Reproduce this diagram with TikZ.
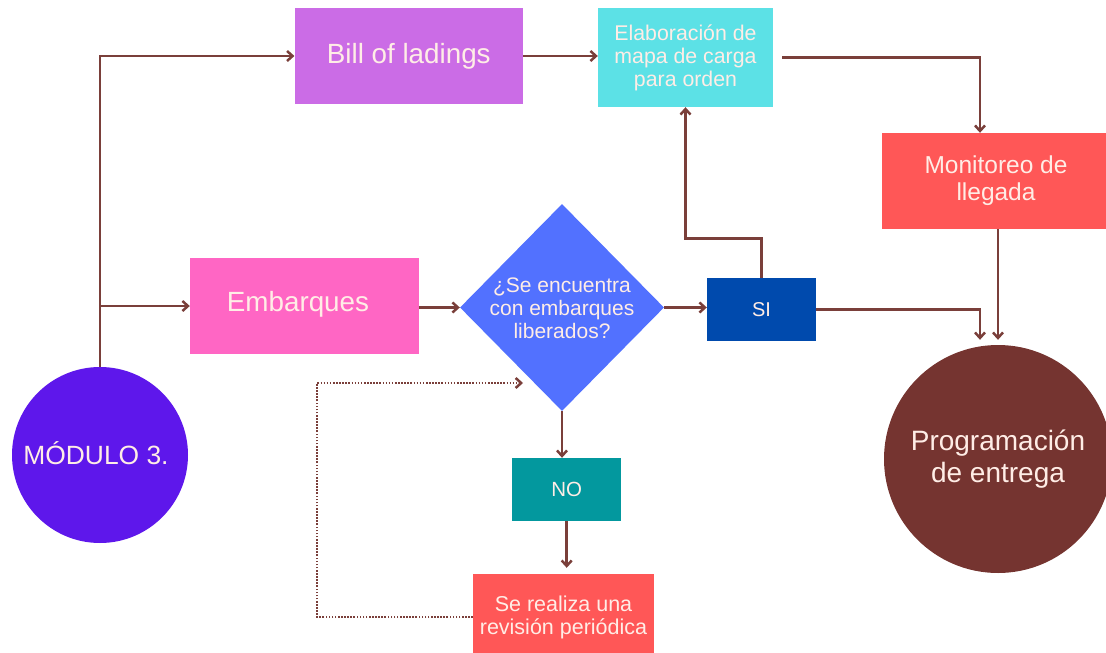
\documentclass[tikz,border=0pt]{standalone}
\usepackage{fontspec}
\setmainfont{Liberation Sans}
\usetikzlibrary{shapes.geometric,arrows.meta,calc}

\definecolor{lavender}{HTML}{CB6CE6}
\definecolor{aqua}{HTML}{5CE1E6}
\definecolor{coral}{HTML}{FF5757}
\definecolor{pinkish}{HTML}{FF66C4}
\definecolor{skyblue}{HTML}{5271FF}
\definecolor{navy}{HTML}{004AAD}
\definecolor{teal}{HTML}{03989E}
\definecolor{violet}{HTML}{5E17EB}
\definecolor{maroon}{HTML}{753430}
\definecolor{linebrown}{HTML}{7A3F3A}
\definecolor{cream}{HTML}{FFEDE6}

\newcommand{\fs}[2]{\fontsize{#1}{#2}\selectfont}

\tikzset{
  box/.style={rectangle, inner sep=0pt, text=cream, align=center},
  disc/.style={circle, inner sep=0pt, text=cream, align=center},
  lbl/.style={inner sep=0pt, text=cream, align=center},
  flow/.style={draw=linebrown, line width=2.7pt,
    -{Straight Barb[length=5.5pt,width=10pt,line width=2.5pt]}},
  loopback/.style={flow, line width=2.5pt, dash pattern=on 1.6pt off 1.5pt}
}

\begin{document}
\begin{tikzpicture}[x=1pt,y=-1pt]
\useasboundingbox (0,0) rectangle (1106,653);
\clip (0,0) rectangle (1106,653);

% process boxes
\node[box, fill=lavender, minimum width=228.4pt, minimum height=95.7pt,
      font=\fs{27.8}{32}] (bill) at (408.8,56) {Bill of ladings};
\node[box, fill=aqua, minimum width=175pt, minimum height=99pt,
      font=\fs{21.3}{23}] (elab) at (685.5,57.5) {Elaboración de\\mapa de carga\\para orden};
\node[box, fill=coral, minimum width=228pt, minimum height=96pt,
      font=\fs{24.5}{27}] (monit) at (996,181) {Monitoreo de\\llegada};
\node[box, fill=pinkish, minimum width=228.6pt, minimum height=96pt] (emb) at (304.3,306) {};
\node[lbl, font=\fs{27.8}{32}] (embtxt) at (298,304) {Embarques};
\node[box, fill=navy, minimum width=109pt, minimum height=63pt,
      font=\fs{20}{23}] (si) at (761.5,309.3) {SI};
\node[box, fill=teal, minimum width=108.5pt, minimum height=63pt,
      font=\fs{20.5}{23}] (no) at (566.7,489.5) {NO};
\node[box, fill=coral, minimum width=181pt, minimum height=86pt,
      font=\fs{21.5}{23}] (rev) at (563.5,617) {Se realiza una\\revisión periódica};

% decision
\node[diamond, fill=skyblue, inner sep=0pt, minimum width=204pt,
      minimum height=207pt] (dia) at (562,307.5) {};
\node[lbl, font=\fs{21}{23}] (diatxt) at (562,308) {¿Se encuentra\\con embarques\\liberados?};

% terminals
\node[disc, fill=violet, minimum size=176pt] (mod) at (100,455) {};
\node[lbl, font=\fs{26.4}{30}] (modtxt) at (96,453) {MÓDULO 3.};
\node[disc, fill=maroon, minimum size=228pt, font=\fs{28}{32}] (prog) at (998,459) {Programación\\de entrega};

\coordinate (loopend) at (523,383);

% connectors
\draw[flow] (mod.north) -- (mod.north |- bill.west) -- (bill.west);
\draw[flow] (mod.north |- emb.west) -- (emb.west);
\draw[flow] (bill.east) -- (bill.east -| elab.west);
\draw[flow] ([xshift=9pt]elab.east) -- ([xshift=-16pt]monit.north |- elab.east) -- ([xshift=-16pt]monit.north);
\draw[flow] (dia.west -| emb.east) -- (dia.west);
\draw[flow] (dia.east) -- (dia.east -| si.west);
\draw[flow] (si.north) -- ++(0,-39) -| (elab.south);
\draw[flow, shorten >=5pt] (si.east) -| ([xshift=-18pt]prog.north);
\draw[flow, shorten >=5pt] ([xshift=2pt]monit.south) -- ([xshift=0pt]prog.north);
\draw[flow] (dia.south) -- (dia.south |- no.north);
\draw[flow, shorten >=6pt] (no.south) -- (no.south |- rev.north);
\draw[loopback] (rev.west) -- ++(-156,0) |- (loopend);
\end{tikzpicture}
\end{document}
